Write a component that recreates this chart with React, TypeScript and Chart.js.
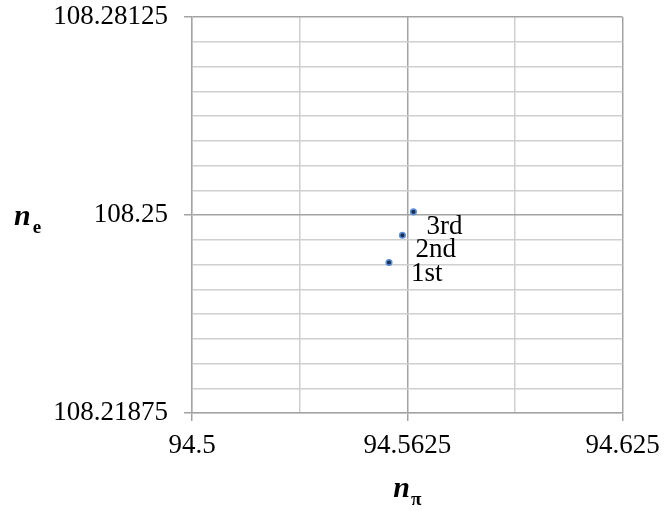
import React, { useEffect, useRef } from "react";
import { Chart, registerables } from "chart.js";

Chart.register(...registerables);

const POINT_LABELS = ["1st", "2nd", "3rd"];
const X_VALUES = [94.5572, 94.5611, 94.5643];
const Y_VALUES = [108.2425, 108.2468, 108.2505];

const X_MIN = 94.5;
const X_MAX = 94.625;
const X_STEP = 0.03125;
const X_LABELED = [94.5, 94.5625, 94.625];
const X_TICK_LABELS = ["94.5", "94.5625", "94.625"];

const Y_MIN = 108.21875;
const Y_MAX = 108.28125;
const Y_STEP = 0.00390625;
const Y_LABELED = [108.21875, 108.25, 108.28125];
const Y_TICK_LABELS = ["108.21875", "108.25", "108.28125"];

// label offsets (px) relative to each point: [dx, dy of text center]
const LABEL_OFFSETS: [number, number][] = [
  [22, 11],
  [13, 15],
  [13, 15],
];

const FONT = "'Liberation Serif', 'Times New Roman', serif";
const MAJOR = "#a3a3a3";
const MINOR = "#cfcfcf";

function buildTicks(min: number, max: number, step: number) {
  const out: { value: number }[] = [];
  const n = Math.round((max - min) / step);
  for (let i = 0; i <= n; i++) out.push({ value: min + i * step });
  return out;
}

function isLabeled(v: number, list: number[]) {
  return list.some((l) => Math.abs(l - v) < 1e-9);
}

const overlayPlugin = {
  id: "overlay",
  afterDatasetsDraw(chart: any) {
    const ctx = chart.ctx as CanvasRenderingContext2D;
    const meta = chart.getDatasetMeta(0);
    ctx.save();
    ctx.fillStyle = "#000";
    ctx.font = `27px ${FONT}`;
    ctx.textBaseline = "middle";
    ctx.textAlign = "left";
    meta.data.forEach((el: any, i: number) => {
      const [dx, dy] = LABEL_OFFSETS[i];
      ctx.fillText(POINT_LABELS[i], el.x + dx, el.y + dy);
    });
    // axis titles
    const ca = chart.chartArea;
    ctx.textBaseline = "alphabetic";
    const cx = (ca.left + ca.right) / 2;
    ctx.font = `italic bold 30px ${FONT}`;
    const nW = ctx.measureText("n").width;
    ctx.font = `bold 19px ${FONT}`;
    const pW = ctx.measureText("π").width;
    const total = nW + pW + 1;
    const x0 = cx - total / 2;
    ctx.font = `italic bold 30px ${FONT}`;
    ctx.fillText("n", x0, 497);
    ctx.font = `bold 19px ${FONT}`;
    ctx.fillText("π", x0 + nW + 1, 505);
    // y title: n_e
    ctx.font = `italic bold 30px ${FONT}`;
    ctx.fillText("n", 14, 225);
    ctx.font = `bold 19px ${FONT}`;
    ctx.fillText("e", 14 + nW + 2, 233);
    ctx.restore();
  },
};

export default function App() {
  const ref = useRef<HTMLCanvasElement | null>(null);
  useEffect(() => {
    document.body.style.margin = "0";
    const canvas = ref.current!;
    const chart = new Chart(canvas, {
      type: "scatter",
      data: {
        datasets: [
          {
            label: "n",
            data: X_VALUES.map((x, i) => ({ x, y: Y_VALUES[i] })),
            pointRadius: 2.8,
            pointBackgroundColor: "#1c2f55",
            pointBorderColor: "#5b8fd8",
            pointBorderWidth: 1.5,
            showLine: false,
          },
        ],
      },
      options: {
        responsive: false,
        animation: false,
        events: [],
        layout: { padding: { top: 17, right: 41.5, left: 0, bottom: 0 } },
        plugins: { legend: { display: false }, tooltip: { enabled: false } },
        scales: {
          x: {
            type: "linear",
            min: X_MIN,
            max: X_MAX,
            afterBuildTicks: (s: any) => {
              s.ticks = buildTicks(X_MIN, X_MAX, X_STEP);
            },
            afterFit: (s: any) => {
              s.height = 98;
              s.paddingLeft = 0;
              s.paddingRight = 0;
            },
            ticks: {
              autoSkip: false,
              maxRotation: 0,
              padding: 9,
              color: "#000",
              font: { family: FONT, size: 27 },
              callback: (v: any) => {
                const idx = X_LABELED.findIndex((l) => Math.abs(l - v) < 1e-9);
                return idx >= 0 ? X_TICK_LABELS[idx] : "";
              },
            },
            grid: {
              color: (c: any) =>
                c.tick && isLabeled(c.tick.value, X_LABELED) && c.tick.value !== X_MIN ? MAJOR : MINOR,
              lineWidth: 1.5,
              tickColor: (c: any) =>
                c.tick && isLabeled(c.tick.value, X_LABELED) ? MAJOR : "rgba(0,0,0,0)",
              tickLength: 8,
              drawTicks: true,
            },
            border: { color: MAJOR, width: 1.5 },
          },
          y: {
            type: "linear",
            min: Y_MIN,
            max: Y_MAX,
            afterBuildTicks: (s: any) => {
              s.ticks = buildTicks(Y_MIN, Y_MAX, Y_STEP);
            },
            afterFit: (s: any) => {
              s.width = 192;
              s.paddingTop = 0;
              s.paddingBottom = 0;
            },
            ticks: {
              autoSkip: false,
              padding: 16,
              color: "#000",
              font: { family: FONT, size: 27 },
              callback: (v: any) => {
                const idx = Y_LABELED.findIndex((l) => Math.abs(l - v) < 1e-9);
                return idx >= 0 ? Y_TICK_LABELS[idx] : "";
              },
            },
            grid: {
              color: (c: any) =>
                c.tick && isLabeled(c.tick.value, Y_LABELED) && c.tick.value !== Y_MIN ? MAJOR : MINOR,
              lineWidth: 1.5,
              tickColor: (c: any) =>
                c.tick && isLabeled(c.tick.value, Y_LABELED) ? MAJOR : "rgba(0,0,0,0)",
              tickLength: 8,
              drawTicks: true,
            },
            border: { color: MAJOR, width: 1.5 },
          },
        },
      },
      plugins: [overlayPlugin],
    });
    return () => chart.destroy();
  }, []);
  return (
    <div style={{ width: 664, height: 511, background: "#fff" }}>
      <canvas ref={ref} width={664} height={511} style={{ width: 664, height: 511, display: "block" }} />
    </div>
  );
}
